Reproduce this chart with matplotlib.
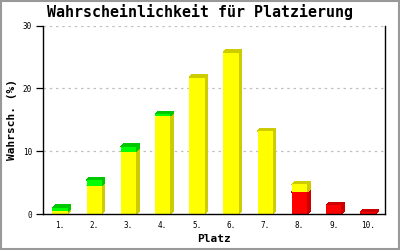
import matplotlib
matplotlib.use("Agg")
import matplotlib.pyplot as plt
from matplotlib.patches import Polygon
from matplotlib.lines import Line2D
import numpy as np

categories = ["1.", "2.", "3.", "4.", "5.", "6.", "7.", "8.", "9.", "10."]
red_vals = [0, 0, 0, 0, 0, 0, 0, 3.5, 1.4, 0.3]
yellow_vals = [0.4, 4.5, 9.9, 15.6, 21.7, 25.7, 13.2, 1.2, 0, 0]
green_vals = [0.6, 0.9, 0.8, 0.3, 0, 0, 0, 0, 0, 0]
yticks = [0, 10, 20, 30]

series = [
    (red_vals, "#ff0000", "#cc0000"),
    (yellow_vals, "#ffff00", "#cccc00"),
    (green_vals, "#00ff00", "#00c800"),
]

fig = plt.figure(figsize=(4, 2.5), dpi=100)
ax = fig.add_axes([43/400, 1-214/250, (385-43)/400, (214-25.5)/250])
ax.set_xlim(-0.5, len(categories)-0.5)
ax.set_ylim(0, 30)

width = 0.45
dx = 3/34.2
dy = 3/6.3
x = np.arange(len(categories))
bottom = np.zeros(len(categories))
for vals, front, dark in series:
    vals = np.array(vals, dtype=float)
    for i in range(len(categories)):
        v = vals[i]
        if v <= 0:
            continue
        x0 = x[i] - width/2
        x1 = x[i] + width/2
        y0 = bottom[i]
        y1 = bottom[i] + v
        ax.add_patch(Polygon([(x1, y0), (x1+dx, y0+dy), (x1+dx, y1+dy), (x1, y1)],
                             closed=True, facecolor=dark, edgecolor='none', zorder=3,
                             antialiased=False))
        ax.add_patch(Polygon([(x0, y1), (x0+dx, y1+dy), (x1+dx, y1+dy), (x1, y1)],
                             closed=True, facecolor=dark, edgecolor='none', zorder=3,
                             antialiased=False))
        ax.bar(x[i], v, width=width, bottom=y0, color=front, edgecolor='none', zorder=4,
               antialiased=False)
    bottom = bottom + vals

mono = "DejaVu Sans Mono"
ax.set_xticks(x)
ax.set_xticklabels(categories, family=mono, fontsize=5.5)
ax.tick_params(axis='x', length=0, pad=5)
ax.set_yticks(yticks)
ax.set_yticklabels([str(t) for t in yticks], family=mono, fontsize=5.5)
ax.tick_params(axis='y', length=5, width=0.9, pad=3, direction='out')

for t in yticks[1:]:
    ax.axhline(t, color='#c0c0c0', lw=0.9, ls=(0, (2, 3)), zorder=1)

ax.spines['top'].set_visible(False)
for s in ['left', 'bottom', 'right']:
    ax.spines[s].set_linewidth(1.0)
    ax.spines[s].set_color('black')
    ax.spines[s].set_zorder(5)

fig.text(0.5, 1-17/250, "Wahrscheinlichkeit für Platzierung", ha='center', va='baseline',
         family=mono, fontweight='bold', fontsize=10.8)
fig.text(214/400, 1-239/250, "Platz", ha='center', va='center', family=mono,
         fontweight='bold', fontsize=8)
fig.text(12/400, 1-120/250, "Wahrsch. (%)", ha='center', va='center', rotation=90,
         family=mono, fontweight='bold', fontsize=8)

# figure border
for (xa, ya) in [([0.5/400, 0.5/400], [0, 1]), ([399/400, 399/400], [0, 1]),
                 ([0, 1], [1.5/250, 1.5/250]), ([0, 1], [249.5/250, 249.5/250])]:
    fig.add_artist(Line2D(xa, ya, color='#999999', lw=1.5, transform=fig.transFigure))

fig.savefig("out.png", dpi=100)
